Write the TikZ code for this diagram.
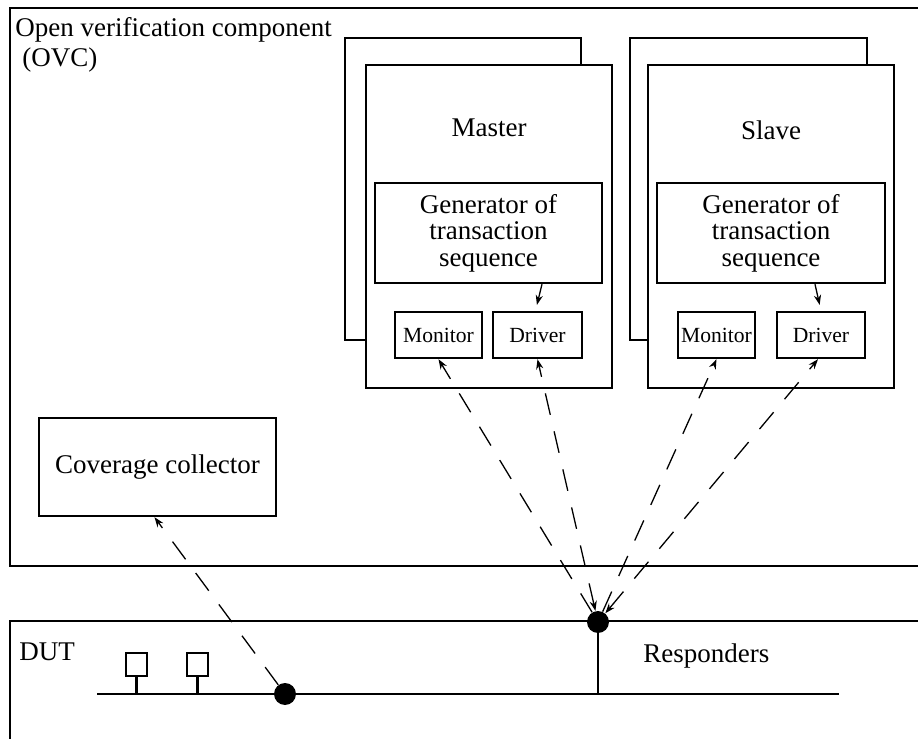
\documentclass[tikz,border=0pt]{standalone}
\usepackage{fontspec}
\setmainfont{Liberation Serif}
\usetikzlibrary{arrows.meta,positioning}

\begin{document}
\begin{tikzpicture}[x=0.5pt,y=-0.5pt,
    font=\fontsize{13.5}{13.3}\selectfont,
    frame/.style={line width=1.2pt},
    caption/.style={anchor=base west,inner sep=0pt},
    unit/.style={draw,line width=1.2pt,inner sep=0pt,align=center,fill=white},
    cell/.style={unit,font=\fontsize{10.8}{12}\selectfont,minimum height=23pt},
    blob/.style={circle,fill,inner sep=0pt,minimum size=11pt},
    probe/.style={line width=0.65pt,dash pattern=on 11pt off 8.5pt},
    head/.style={-{Stealth[length=5pt,width=3.6pt]}},
    twoway/.style={{Stealth[length=5pt,width=3.6pt]}-{Stealth[length=5pt,width=3.6pt]}}]
  \useasboundingbox (0,0) rectangle (918,739);
  \clip (0,0) rectangle (918,739);
  \draw[frame] (10,8) rectangle (940,566);
  \draw[frame] (10,621) rectangle (940,760);
  \node[caption] (ovc) at (15,37) {Open verification component};
  \node[caption] (ovcabbr) at (22,67) {(OVC)};

  \draw[frame] (345,38) rectangle (581,340);
  \node[unit,minimum width=123pt,minimum height=161.5pt] (master) at (489,226.5) {};
  \node (mname) at (489,128) {Master};
  \node[unit,minimum width=113.5pt,minimum height=50pt] (mgen) at (488.5,233) {Generator of\\transaction\\sequence};
  \node[cell,minimum width=43.5pt] (mmon) at (438.5,335) {Monitor};
  \node[cell,minimum width=44.5pt] (mdrv) at (537.5,335) {Driver};

  \draw[frame] (630,38) rectangle (867,340);
  \node[unit,minimum width=123pt,minimum height=161.5pt] (slave) at (771,226.5) {};
  \node (sname) at (771,130) {Slave};
  \node[unit,minimum width=114pt,minimum height=50pt] (sgen) at (771,233) {Generator of\\transaction\\sequence};
  \node[cell,minimum width=38.5pt] (smon) at (716.5,335) {Monitor};
  \node[cell,minimum width=44pt] (sdrv) at (821,335) {Driver};

  \node[unit,minimum width=118.5pt,minimum height=49pt] (cov) at (157.5,467) {Coverage collector};

  \node[caption] (dut) at (19,660) {DUT};
  \node[caption] (rsp) at (643,662) {Responders};
  \coordinate (busL) at (97,694);
  \coordinate (busR) at (839,694);
  \draw[frame] (busL) -- (busR);
  \node[draw,line width=1.1pt,inner sep=0pt,minimum width=10.5pt,minimum height=11.5pt] (dev1) at (136.5,664.5) {};
  \node[draw,line width=1.1pt,inner sep=0pt,minimum width=10.5pt,minimum height=11.5pt] (dev2) at (197.5,664.5) {};
  \draw[frame] (dev1) -- (dev1 |- busL);
  \draw[frame] (dev2) -- (dev2 |- busL);
  \node[blob] (tap) at (285,694) {};
  \node[blob] (port) at (598,622) {};
  \draw[frame] (port) -- (port |- busL);

  \draw[probe,head] (tap) -- ([xshift=-1.5pt]cov.south);
  \draw[probe,head] (port) -- (mmon.south);
  \draw[probe,twoway] (port) -- (mdrv.south);
  \draw[probe,head] (port) -- (smon.south);
  \draw[probe,twoway] (port) -- ([xshift=-1.5pt]sdrv.south);
  \draw[head,line width=0.65pt,shorten >=3pt] ([xshift=26.75pt]mgen.south) -- ([xshift=-1pt]mdrv.north);
  \draw[head,line width=0.65pt,shorten >=3pt] ([xshift=22pt]sgen.south) -- (sdrv.north);
\end{tikzpicture}
\end{document}
